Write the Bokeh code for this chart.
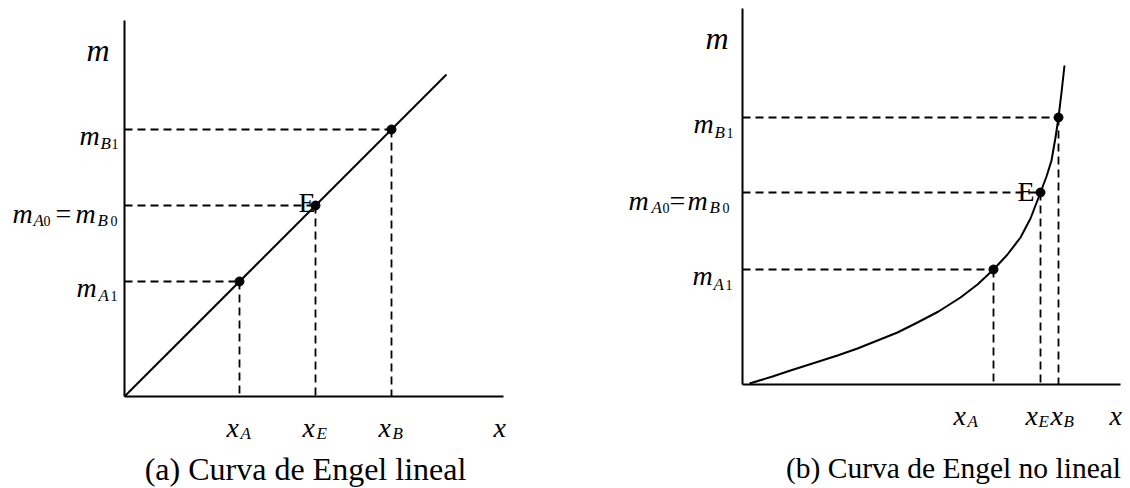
from bokeh.plotting import figure
from bokeh.layouts import row
from bokeh.models import Range1d
from bokeh.embed import file_html
from bokeh.resources import INLINE
from bokeh.core.properties import value

# ---------------- data ----------------
# Panel (a): linear Engel curve (x = quantity, m = income)
lin_line_x = [0, 322]
lin_line_m = [0, 322]
lin_pts_x = [115, 191, 267]      # x_A, x_E, x_B
lin_pts_m = [115, 191, 267]      # m_A1, m_A0 = m_B0, m_B1
lin_axis_x_len = 379
lin_axis_m_len = 376

# Panel (b): non-linear Engel curve
nl_curve_x = [7, 30, 48, 70, 95, 115, 135, 155, 175, 196, 218, 235, 251,
              265, 278, 288, 298, 304, 309, 313, 316, 319, 322]
nl_curve_m = [1, 8, 14, 21, 29, 36, 44, 52, 62, 73, 87, 100, 115,
              130, 147, 166, 192, 208, 224, 247, 267, 292, 319]
nl_pts_x = [251, 298, 316]       # x_A, x_E, x_B
nl_pts_m = [115, 192, 267]       # m_A1, m_A0 = m_B0, m_B1
nl_axis_x_len = 378
nl_axis_m_len = 376

captions = ["(a) Curva de Engel lineal", "(b) Curva de Engel no lineal"]

FONT = value("Liberation Serif")


def make_fig(w, h, x0, y0):
    p = figure(width=w, height=h, output_backend="svg", toolbar_location=None,
               x_range=Range1d(-x0, w - x0), y_range=Range1d(-y0, h - y0),
               min_border=0, min_border_left=0, min_border_right=0,
               min_border_top=0, min_border_bottom=0)
    p.axis.visible = False
    p.grid.visible = False
    p.outline_line_color = None
    p.background_fill_color = "white"
    p.border_fill_color = "white"
    return p


def piece(p, txt, x, y, size, italic=True, align="left"):
    p.text(x=[x], y=[y], text=[txt], text_font=FONT,
           text_font_size=f"{size}px",
           text_font_style="italic" if italic else "normal",
           text_color="black", text_align=align, text_baseline="alphabetic")


def label(p, pieces, ax, ay):
    # pieces: (text, dx, dy_down, size, italic)
    for t, dx, dy, s, it in pieces:
        piece(p, t, ax + dx, ay - dy, s, it)


def draw_panel(p, axx, axm, pts_x, pts_m):
    p.line([0, axx], [0, 0], line_color="black", line_width=2)
    p.line([0, 0], [0, axm], line_color="black", line_width=2)
    p.segment(x0=[0] * len(pts_x), y0=pts_m, x1=pts_x, y1=pts_m,
              line_color="black", line_width=1.8, line_dash="8 5")
    p.segment(x0=pts_x, y0=pts_m, x1=pts_x, y1=[0] * len(pts_x),
              line_color="black", line_width=1.8, line_dash="8 5")


MS, SS, DS = 28, 17, 14

# ---------------- panel (a) ----------------
p1 = make_fig(565, 488, 124, 92)
draw_panel(p1, lin_axis_x_len, lin_axis_m_len, lin_pts_x, lin_pts_m)
p1.line(lin_line_x, lin_line_m, line_color="black", line_width=2)
p1.scatter(lin_pts_x, lin_pts_m, size=9, color="black")

piece(p1, "m", -38, 347, 32)
label(p1, [("m", -45, 6, MS, True), ("B", -24, 14, SS, True), ("1", -13, 14, DS, False)], 0, lin_pts_m[2])
label(p1, [("m", -112, 8, MS, True), ("A", -91, 15, SS, True), ("0", -81, 15, DS, False),
           ("=", -69, 8, MS, False),
           ("m", -49, 8, MS, True), ("B", -27, 15, SS, True), ("0", -14, 15, DS, False)], 0, lin_pts_m[1])
label(p1, [("m", -48, 6, MS, True), ("A", -26, 14, SS, True), ("1", -14, 14, DS, False)], 0, lin_pts_m[0])
for xi, sub in zip(lin_pts_x, ["A", "E", "B"]):
    label(p1, [("x", -13, 31, MS, True), (sub, 1, 37, SS, True)], xi, 0)
piece(p1, "x", 369, -31, MS)
piece(p1, "E", lin_pts_x[1] - 17, lin_pts_m[1] + 3, MS, False)
piece(p1, captions[0], 181, -72, 32, False, "center")

# ---------------- panel (b) ----------------
p2 = make_fig(565, 488, 177, 104)
draw_panel(p2, nl_axis_x_len, nl_axis_m_len, nl_pts_x, nl_pts_m)
p2.line(nl_curve_x, nl_curve_m, line_color="black", line_width=2, line_join="round")
p2.scatter(nl_pts_x, nl_pts_m, size=9, color="black")

piece(p2, "m", -37, 347, 32)
label(p2, [("m", -49, 6, MS, True), ("B", -28, 15, SS, True), ("1", -16, 15, DS, False)], 0, nl_pts_m[2])
label(p2, [("m", -114, 8, MS, True), ("A", -91, 15, SS, True), ("0", -80, 15, DS, False),
           ("=", -73, 8, MS, False),
           ("m", -55, 8, MS, True), ("B", -33, 15, SS, True), ("0", -20, 15, DS, False)], 0, nl_pts_m[1])
label(p2, [("m", -50, 6, MS, True), ("A", -29, 15, SS, True), ("1", -17, 15, DS, False)], 0, nl_pts_m[0])
label(p2, [("x", -40, 31, MS, True), ("A", -26, 37, SS, True)], nl_pts_x[0], 0)
label(p2, [("x", -15, 31, MS, True), ("E", -2, 37, SS, True)], nl_pts_x[1], 0)
label(p2, [("x", -8, 31, MS, True), ("B", 5, 37, SS, True)], nl_pts_x[2], 0)
piece(p2, "x", 367, -31, MS)
piece(p2, "E", nl_pts_x[1] - 23, nl_pts_m[1] + 1, MS, False)
piece(p2, captions[1], 211, -83, 29.5, False, "center")

layout = row(p1, p2, spacing=0)
open("out.html", "w").write(file_html(layout, INLINE))
